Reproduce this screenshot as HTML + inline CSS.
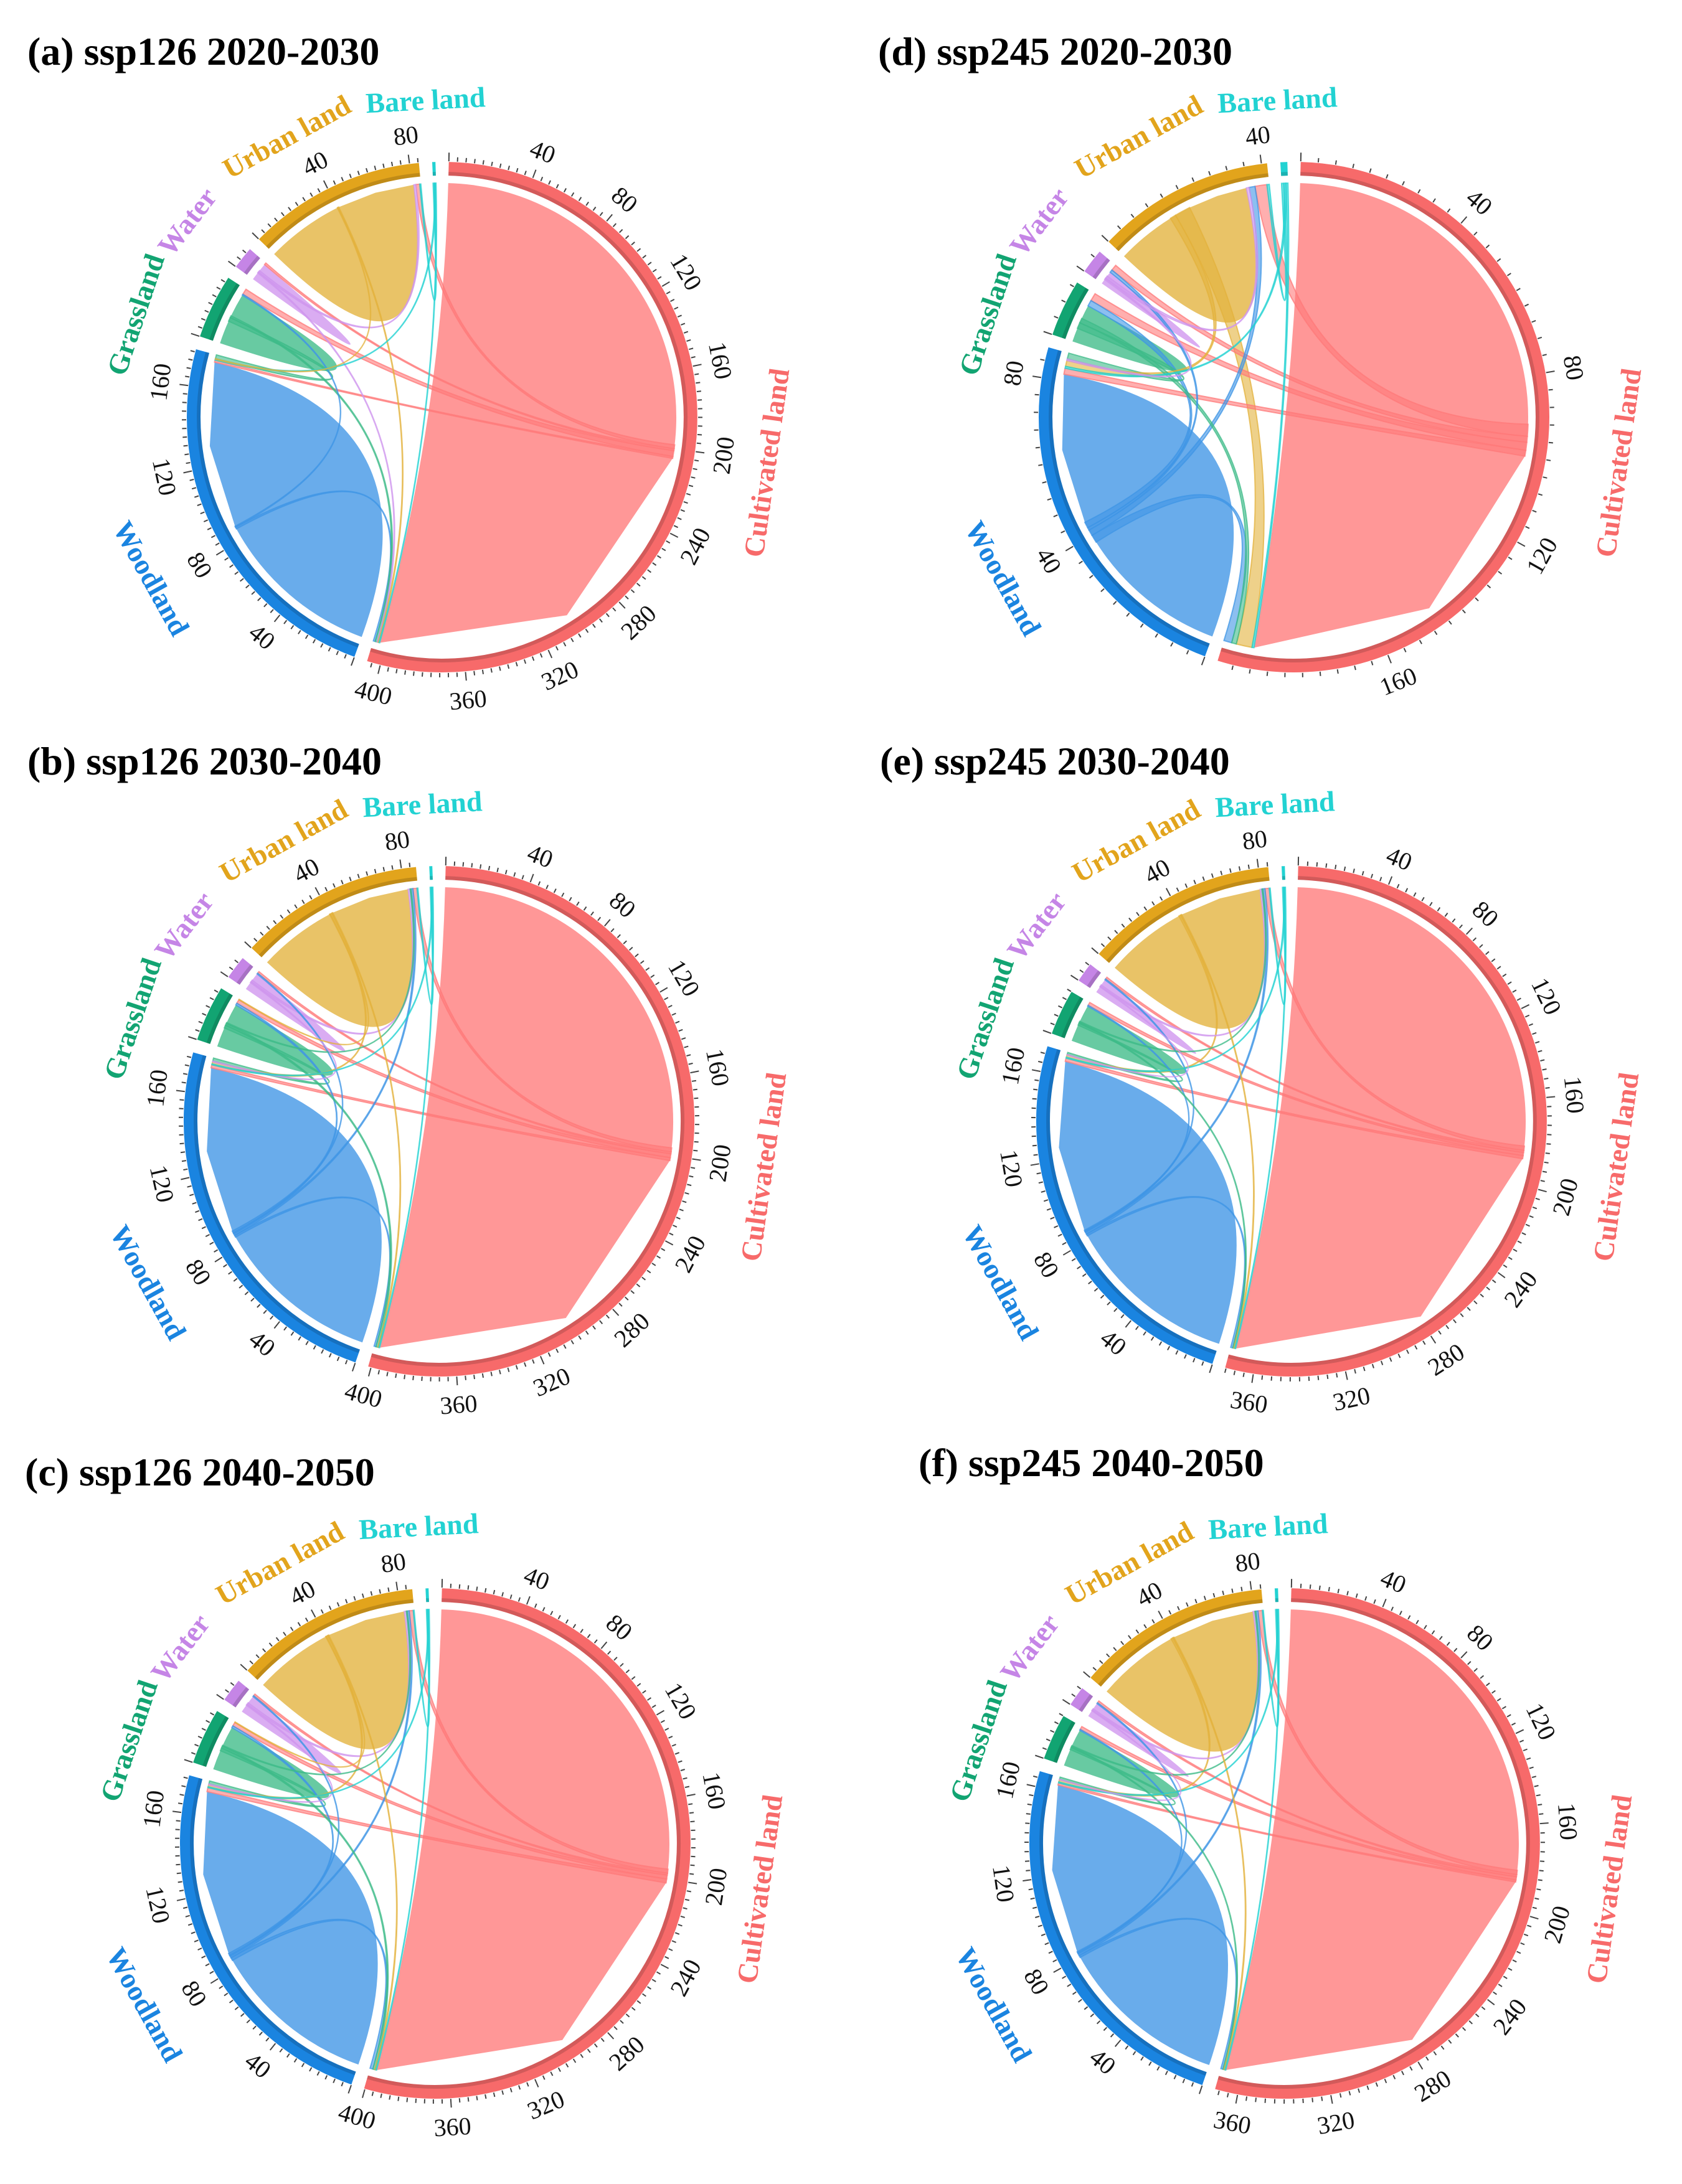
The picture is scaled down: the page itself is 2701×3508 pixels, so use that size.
<!DOCTYPE html>
<html><head><meta charset="utf-8"><title>Land use transition chord diagrams</title>
<style>
html,body{margin:0;padding:0;background:#fff;}
svg{display:block;}
.title{font-family:"Liberation Serif",serif;font-weight:bold;font-size:64px;fill:#000;}
.tick{font-family:"Liberation Serif",serif;font-size:40px;fill:#111;}
.sname{font-family:"Liberation Serif",serif;font-weight:bold;font-size:46px;}
</style></head>
<body>
<svg id="root" width="2701" height="3508" viewBox="0 0 2701 3508" xmlns="http://www.w3.org/2000/svg"></svg>
<script>
// Categories (clockwise from top)
const categories = ["Cultivated land","Woodland","Grassland","Water","Urban land","Bare land"];
const bandColors = ["#F76A6A","#1A84E0","#12A472","#C585E6","#E2A41C","#22D2D2"];
const chordColors = ["#FF7A7A","#3F95E6","#3DBB88","#CF95EE","#E3B23C","#22D2D2"];
const labelAngles = [98,241,288.5,307.5,331,357];
const labelRadii = [526,534,519,516,515,510];

// Flows [from, to, value] per panel
const flowsA = [[0,0,198],[0,4,2],[0,3,1],[0,2,3],[0,1,1],[1,1,86],[1,0,1],[1,2,0.5],[2,2,12],[2,0,1],[2,1,2],[3,3,4],[3,4,1],[3,0,0.5],[4,4,40],[4,0,0.5],[4,1,0.3],[5,4,0.6],[5,1,0.5],[5,0,0.4]];
const flowsB = [[0,0,196],[0,4,2],[0,3,1],[0,2,2],[0,1,1.5],[1,1,85],[1,0,1],[1,2,1],[1,4,1],[1,3,0.5],[2,2,10],[2,0,1],[2,1,1.5],[2,4,0.5],[3,3,4],[3,4,1],[3,1,0.5],[4,4,40],[4,1,1],[4,0,0.5],[4,2,0.3],[5,4,0.5],[5,1,0.5],[5,0,0.4]];
const flowsC = [[0,0,195],[0,4,2],[0,3,1],[0,2,2],[0,1,2],[1,1,84],[1,0,1.5],[1,2,1],[1,4,1],[1,3,0.5],[2,2,10],[2,0,1],[2,1,1.5],[2,4,0.5],[3,3,4],[3,4,1],[3,1,0.5],[4,4,40],[4,1,1],[4,0,0.5],[4,2,0.3],[5,4,0.5],[5,1,0.5],[5,0,0.4]];
const flowsD = [[0,0,92],[0,4,3],[0,3,1.5],[0,2,2],[0,1,1.5],[1,1,38],[1,0,2],[1,2,1.5],[1,3,0.7],[1,4,1.5],[2,2,3.5],[2,0,1.2],[2,1,1.5],[3,3,1.2],[3,4,0.7],[3,1,0.4],[4,4,15],[4,0,4],[4,1,1.5],[5,4,0.6],[5,1,0.5],[5,0,0.5]];
const flowsE = [[0,0,182],[0,4,2],[0,3,1],[0,2,1.5],[0,1,1.5],[1,1,82],[1,0,1],[1,2,0.5],[1,4,1],[1,3,0.5],[2,2,8],[2,0,0.5],[2,1,1],[2,4,0.5],[3,3,3],[3,4,0.8],[3,1,0.3],[4,4,39],[4,0,0.5],[4,1,1],[5,4,0.5],[5,1,0.5],[5,0,0.4]];
const flowsF = [[0,0,181],[0,4,2],[0,3,1],[0,2,1.5],[0,1,1],[1,1,80],[1,0,1],[1,2,0.5],[1,4,1],[1,3,0.5],[2,2,8],[2,0,0.5],[2,1,1],[2,4,0.5],[3,3,3],[3,4,0.8],[3,1,0.3],[4,4,39],[4,0,0.5],[4,1,1],[5,4,0.5],[5,1,0.5],[5,0,0.4]];

const panelTitles = ["(a) ssp126 2020-2030","(b) ssp126 2030-2040","(c) ssp126 2040-2050","(d) ssp245 2020-2030","(e) ssp245 2030-2040","(f) ssp245 2040-2050"];
const panelFlows = [flowsA,flowsB,flowsC,flowsD,flowsE,flowsF];
const tickStep = 4, labelStep = 40;

const NS = "http://www.w3.org/2000/svg";
const root = document.getElementById("root");
const layoutCfg = [
  {cx:710,cy:670,tx:44,ty:104},
  {cx:705,cy:1801,tx:44,ty:1244},
  {cx:699,cy:2961,tx:40,ty:2386},
  {cx:2078,cy:670,tx:1410,ty:104},
  {cx:2074,cy:1801,tx:1413,ty:1244},
  {cx:2063,cy:2961,tx:1475,ty:2371}
];
const R = 410, BW = 22, RC = R - BW - 12, GAP = 3, START = 1.5;

function el(tag, attrs, parent){
  const e = document.createElementNS(NS, tag);
  for (const k in attrs) e.setAttribute(k, attrs[k]);
  parent.appendChild(e);
  return e;
}
function P(cx,cy,r,deg){const a=deg*Math.PI/180;return [cx+r*Math.sin(a), cy-r*Math.cos(a)];}
function f(p){return p[0].toFixed(1)+","+p[1].toFixed(1);}
function rotFor(t){t=((t%360)+360)%360;return (t>90&&t<270)?t-180:t;}

function drawPanel(idx){
  const cfg = layoutCfg[idx], flows = panelFlows[idx], cx=cfg.cx, cy=cfg.cy, n=categories.length;
  const g = el("g",{},root);
  
  
  const t = el("text",{x:cfg.tx,y:cfg.ty,"class":"title"},g);
  t.textContent = panelTitles[idx];
  
  

  const size = new Array(n).fill(0);
  flows.forEach(fl=>{size[fl[0]]+=fl[2]; size[fl[1]]+=fl[2];});
  const total = size.reduce((a,b)=>a+b,0);
  const scale = (360 - GAP*n)/total;
  const sStart = [], sEnd = [];
  let cur = START;
  for (let i=0;i<n;i++){sStart[i]=cur; cur+=size[i]*scale; sEnd[i]=cur; cur+=GAP;}

  const ends = flows.map(()=>({}));
  for (let s=0;s<n;s++){
    const items=[];
    flows.forEach((fl,k)=>{
      if (fl[0]===s){const o=fl[1];items.push({k,role:"out",v:fl[2],key:o===s?-1:((s-o+n)%n)});}
      if (fl[1]===s){const o=fl[0];items.push({k,role:"in",v:fl[2],key:o===s?100:100+((s-o+n)%n)});}
    });
    items.sort((a,b)=>a.key-b.key);
    let pos = sStart[s];
    items.forEach(it=>{const a0=pos; pos+=it.v*scale; ends[it.k][it.role]=[a0,pos];});
  }

  const order = flows.map((fl,k)=>k).sort((a,b)=>{
    const sa=flows[a][0]===flows[a][1]?0:1, sb=flows[b][0]===flows[b][1]?0:1;
    return sa-sb || flows[b][2]-flows[a][2];
  });
  const C=[cx,cy];
  order.forEach(k=>{
    const fl = flows[k], A = ends[k].out, B = ends[k]["in"];
    let d;
    const self = fl[0]===fl[1];
    if (self){
      const bm=(B[0]+B[1])/2;
      d = "M"+f(P(cx,cy,RC,A[0]))+" A"+RC+","+RC+" 0 "+((A[1]-A[0])>180?1:0)+" 1 "+f(P(cx,cy,RC,A[1]))+
          " L"+f(P(cx,cy,RC,B[0]))+" L"+f(P(cx,cy,RC,bm))+" L"+f(P(cx,cy,RC,B[1]))+
          " Q"+f(C)+" "+f(P(cx,cy,RC,A[0]))+" Z";
    } else {
      d = "M"+f(P(cx,cy,RC,A[0]))+" A"+RC+","+RC+" 0 0 1 "+f(P(cx,cy,RC,A[1]))+
          " Q"+f(C)+" "+f(P(cx,cy,RC,B[0]))+" A"+RC+","+RC+" 0 0 1 "+f(P(cx,cy,RC,B[1]))+
          " Q"+f(C)+" "+f(P(cx,cy,RC,A[0]))+" Z";
    }
    const p = el("path",{d:d,fill:chordColors[fl[0]],"fill-opacity":self?0.78:0.6,stroke:chordColors[fl[0]],"stroke-opacity":self?0:0.75,"stroke-width":self?0:2},g);
    
    
  });

  for (let s=0;s<n;s++){
    const a0=sStart[s], a1=sEnd[s], rm=R-BW/2;
    const band = el("path",{d:"M"+f(P(cx,cy,rm,a0))+" A"+rm+","+rm+" 0 "+((a1-a0)>180?1:0)+" 1 "+f(P(cx,cy,rm,a1)),fill:"none",stroke:bandColors[s],"stroke-width":BW},g);
    
    
    const ri=R-BW+3;
    el("path",{d:"M"+f(P(cx,cy,ri,a0))+" A"+ri+","+ri+" 0 "+((a1-a0)>180?1:0)+" 1 "+f(P(cx,cy,ri,a1)),fill:"none",stroke:"rgba(0,0,0,0.15)","stroke-width":6},g);
    if (size[s]>5){
      let td="";
      for (let v=0; v<=size[s]+0.001; v+=tickStep){
        const a=a0+v*scale, major=(v%labelStep===0);
        td+="M"+f(P(cx,cy,R+1,a))+" L"+f(P(cx,cy,R+(major?15:8),a));
        if (major && v>0){
          const lp=P(cx,cy,R+46,a);
          const tx=el("text",{x:lp[0].toFixed(1),y:lp[1].toFixed(1),"class":"tick","text-anchor":"middle","dominant-baseline":"central",transform:"rotate("+rotFor(a).toFixed(1)+" "+lp[0].toFixed(1)+" "+lp[1].toFixed(1)+")"},g);
          tx.textContent=String(v);
          
          
        }
      }
      el("path",{d:td,stroke:"#444","stroke-width":2,fill:"none"},g);
    }
    const am=labelAngles[s];
    const lp=P(cx,cy,labelRadii[s],am);
    const nm=el("text",{x:lp[0].toFixed(1),y:lp[1].toFixed(1),"class":"sname",fill:bandColors[s],"text-anchor":"middle","dominant-baseline":"central",transform:"rotate("+rotFor(am).toFixed(1)+" "+lp[0].toFixed(1)+" "+lp[1].toFixed(1)+")"},g);
    if (s===3) nm.setAttribute("font-weight","normal");
    nm.textContent=categories[s];
    
    
  }
}
for (let i=0;i<6;i++) drawPanel(i);
</script>
</body></html>
